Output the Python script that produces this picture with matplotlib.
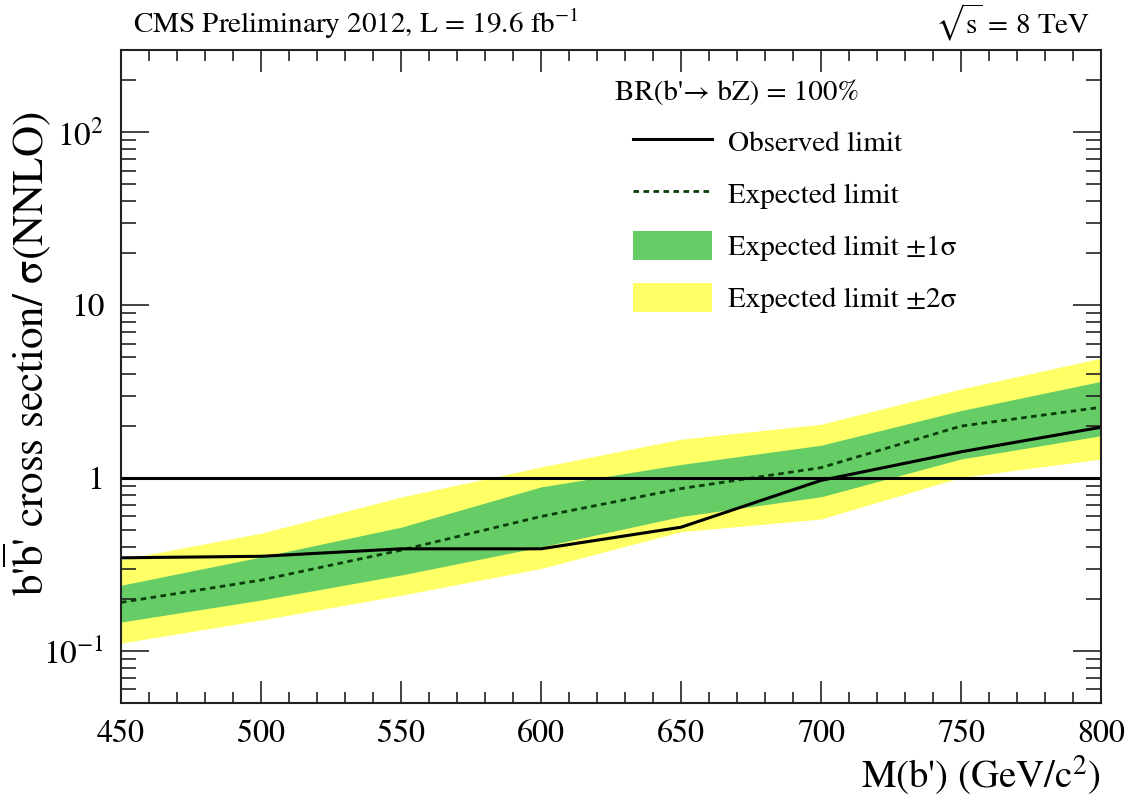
import numpy as np
import matplotlib
matplotlib.use('Agg')
import matplotlib.pyplot as plt
from matplotlib.ticker import FixedLocator, MultipleLocator, LogLocator, NullFormatter
from matplotlib.patches import Patch
from matplotlib.lines import Line2D

plt.rcParams['font.family'] = ['STIXGeneral', 'DejaVu Serif']
plt.rcParams['mathtext.fontset'] = 'stix'

# 数据
mass = [450, 500, 550, 600, 650, 700, 750, 800]
observed = [0.346, 0.353, 0.39, 0.39, 0.52, 0.97, 1.42, 1.97]
expected = [0.191, 0.257, 0.383, 0.60, 0.87, 1.15, 2.0, 2.57]
exp_1s_up = [0.24, 0.35, 0.52, 0.89, 1.2, 1.55, 2.46, 3.63]
exp_1s_dn = [0.147, 0.197, 0.275, 0.40, 0.60, 0.78, 1.29, 1.76]
exp_2s_up = [0.338, 0.48, 0.777, 1.16, 1.68, 2.05, 3.28, 4.95]
exp_2s_dn = [0.111, 0.151, 0.21, 0.30, 0.49, 0.58, 1.01, 1.29]

ytick_vals = [0.1, 1, 10, 100]
ytick_labels = [r'$10^{-1}$', '1', '10', r'$10^{2}$']
xtick_vals = [450, 500, 550, 600, 650, 700, 750, 800]

green = '#66cc66'
yellow = '#ffff66'
dark_green = '#0a3d0a'

fig = plt.figure(figsize=(11.41, 7.99), dpi=100)
ax = fig.add_axes([121 / 1141, 1 - 703 / 799, 980 / 1141, 653 / 799])

ax.fill_between(mass, exp_2s_dn, exp_2s_up, color=yellow, lw=0)
ax.fill_between(mass, exp_1s_dn, exp_1s_up, color=green, lw=0)
ax.plot(mass, expected, color=dark_green, lw=2, linestyle=(0, (2.0, 1.6)))
ax.plot(mass, observed, color='black', lw=2.2)
ax.axhline(1, color='black', lw=2.2)

ax.set_yscale('log')
ax.set_xlim(450, 800)
ax.set_ylim(0.05, 300)

ax.xaxis.set_major_locator(FixedLocator(xtick_vals))
ax.xaxis.set_minor_locator(MultipleLocator(10))
ax.set_xticklabels([str(v) for v in xtick_vals])
ax.yaxis.set_major_locator(FixedLocator(ytick_vals))
ax.yaxis.set_minor_locator(LogLocator(base=10, subs=np.arange(2, 10)))
ax.yaxis.set_minor_formatter(NullFormatter())
ax.set_yticklabels(ytick_labels)

ax.tick_params(axis='both', which='both', direction='in', top=True, right=True,
               width=1.2, color='#222222')
ax.tick_params(axis='x', which='major', length=16, pad=12, labelsize=23)
ax.tick_params(axis='x', which='minor', length=8)
ax.tick_params(axis='y', which='major', length=20, pad=12, labelsize=24)
ax.tick_params(axis='y', which='minor', length=11)
for s in ax.spines.values():
    s.set_linewidth(1.5)
    s.set_color('#222222')

ax.set_xlabel("M(b') (GeV/c$^{2}$)", fontsize=28, loc='right')
ax.xaxis.set_label_coords(1.0, -0.078)
ax.set_ylabel("b'$\\overline{\\rm b}$' cross section/ σ(NNLO)", fontsize=31)
ax.yaxis.set_label_coords(-0.068, 0.535)

ax.text(0.012, 1.026, r"CMS Preliminary 2012, L = 19.6 fb$^{-1}$", transform=ax.transAxes,
        fontsize=21, ha='left', va='baseline')
ax.text(0.989, 1.026, r"$\sqrt{\mathrm{s}}$ = 8 TeV", transform=ax.transAxes,
        fontsize=21, ha='right', va='baseline')
ax.text(0.504, 0.923, "BR(b'→ bZ) = 100%", transform=ax.transAxes,
        fontsize=21, ha='left', va='baseline')

handles = [
    Line2D([], [], color='black', lw=2.2),
    Line2D([], [], color=dark_green, lw=2, linestyle=(0, (2.0, 1.6))),
    Patch(facecolor=green, edgecolor='none'),
    Patch(facecolor=yellow, edgecolor='none'),
]
labels = ['Observed limit', 'Expected limit',
          'Expected limit ±1σ', 'Expected limit ±2σ']
ax.legend(handles, labels, loc='upper left', bbox_to_anchor=(0.5224, 0.882),
          frameon=False, fontsize=21, borderpad=0, borderaxespad=0,
          handlelength=2.7, handleheight=1.15, handletextpad=0.55, labelspacing=0.74)

fig.savefig('out.png', dpi=100)
